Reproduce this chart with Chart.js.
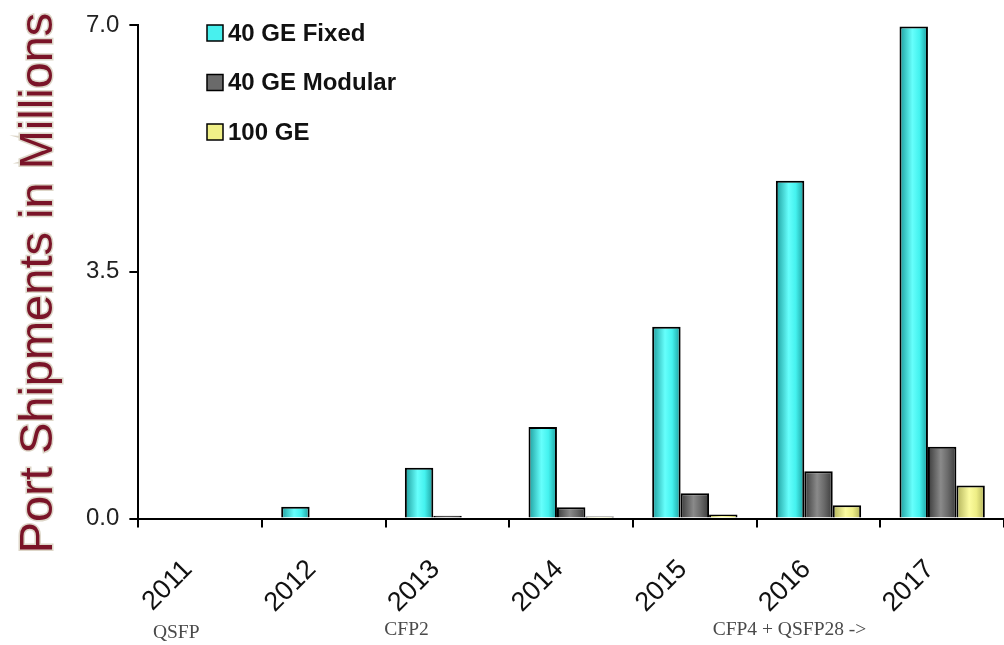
<!DOCTYPE html>
<html>
<head>
<meta charset="utf-8">
<script src="https://cdn.jsdelivr.net/npm/chart.js@4/dist/chart.umd.min.js"></script>
<style>
  html, body { margin:0; padding:0; background:#fff; }
  #wrap { width:1004px; height:645px; position:relative; }
</style>
</head>
<body>
<div id="wrap"><canvas id="shipChart"></canvas></div>
<script>
// Chart data
const years = ['2011','2012','2013','2014','2015','2016','2017'];
const fixed40 = [0, 0.17, 0.72, 1.30, 2.72, 4.79, 6.98];
const modular40 = [0, 0, 0.04, 0.16, 0.36, 0.67, 1.02];
const ge100 = [0, 0, 0, 0.03, 0.06, 0.19, 0.47];
const yTicks = [0, 3.5, 7.0];
const seriesNames = ['40 GE Fixed', '40 GE Modular', '100 GE'];
const yTitle = 'Port Shipments in Millions';
// form-factor notes under the year labels
const noteText = ['QSFP', 'CFP2', 'CFP4 + QSFP28 ->'];
const noteYear = ['2011', '2013', '2016'];

const CAT_PCT = 0.69;

// cylinder-ish shading: dark edges, light band left of centre
function shade(base, light, dark) {
  return function(ctx) {
    const chart = ctx.chart;
    const xs = chart.scales && chart.scales.x;
    if (!xs || ctx.type !== 'data') return base;
    const catW = xs.width / years.length;
    const barW = catW * CAT_PCT / 3;
    const center = xs.getPixelForValue(ctx.dataIndex);
    const left = center - catW * CAT_PCT / 2 + ctx.datasetIndex * barW;
    if (!isFinite(left) || !isFinite(barW) || barW <= 0) return base;
    const g = chart.ctx.createLinearGradient(left, 0, left + barW, 0);
    g.addColorStop(0, dark);
    g.addColorStop(0.45, light);
    g.addColorStop(0.7, base);
    g.addColorStop(1, dark);
    return g;
  };
}

const colors = [
  { base:'#44f2ef', light:'#66fffc', dark:'#1c9c9c', box:'#48f0ee' },
  { base:'#6a6a6a', light:'#8a8a8a', dark:'#3a3a3a', box:'#6a6a6a' },
  { base:'#eeee86', light:'#fcfca0', dark:'#b0b058', box:'#f0f088' }
];

// legend drawn inside the plot area, stacked vertically
const insideLegend = {
  id: 'insideLegend',
  afterDraw(chart) {
    const c = chart.ctx;
    const x0 = 207, y0 = 33, step = 49.5;
    c.save();
    c.font = 'bold 24px Arial, "Liberation Sans", sans-serif';
    c.textBaseline = 'middle';
    chart.data.datasets.forEach((ds, i) => {
      const y = y0 + i * step;
      c.fillStyle = colors[i].box;
      c.fillRect(x0, y - 8, 16, 16);
      c.lineWidth = 1.5;
      c.strokeStyle = '#000';
      c.strokeRect(x0, y - 8, 16, 16);
      c.fillStyle = '#111';
      c.fillText(ds.label, x0 + 21, y + 1);
    });
    c.restore();
  }
};

// vertical axis title, sits a bit lower than the plot's middle like the original
const sideTitle = {
  id: 'sideTitle',
  afterDraw(chart) {
    const c = chart.ctx;
    c.save();
    c.translate(39, 283);
    c.rotate(-Math.PI / 2);
    c.font = '47px Arial, "Liberation Sans", sans-serif';
    c.textAlign = 'center';
    c.textBaseline = 'middle';
    c.lineWidth = 3;
    c.strokeStyle = '#ddd6c8';
    c.strokeText(yTitle, 0, 0);
    c.fillStyle = '#7a1428';
    c.fillText(yTitle, 0, 0);
    c.restore();
  }
};

// form-factor notes below the rotated year labels
const notes = {
  id: 'notes',
  afterDraw(chart) {
    const c = chart.ctx;
    const xs = chart.scales.x;
    const offs = [-24, -41, -29];
    c.save();
    c.font = '19.5px "Liberation Serif", "Times New Roman", serif';
    c.fillStyle = '#4a4a4a';
    c.textAlign = 'center';
    c.textBaseline = 'middle';
    noteText.forEach((t, i) => {
      const x = xs.getPixelForValue(years.indexOf(noteYear[i])) + offs[i];
      c.fillText(t, x, i === 0 ? 633 : 630);
    });
    c.restore();
  }
};

const ctx = document.getElementById('shipChart').getContext('2d');
const shipChart = new Chart(ctx, {
  type: 'bar',
  data: {
    labels: years,
    datasets: [fixed40, modular40, ge100].map((vals, i) => ({
      label: seriesNames[i],
      data: vals,
      backgroundColor: shade(colors[i].base, colors[i].light, colors[i].dark),
      borderColor: '#000',
      borderWidth: 2,
      borderSkipped: 'bottom',
      categoryPercentage: CAT_PCT,
      barPercentage: 1.0
    }))
  },
  options: {
    responsive: true,
    maintainAspectRatio: false,
    animation: false,
    layout: { padding: { top: 25, right: 0, bottom: 0, left: 76 } },
    plugins: {
      legend: { display: false },
      tooltip: { enabled: false }
    },
    scales: {
      x: {
        grid: { offset: true, drawOnChartArea: false, drawTicks: true, tickLength: 9, color: '#000', lineWidth: 2 },
        border: { display: true, color: '#000', width: 2 },
        ticks: {
          maxRotation: 45, minRotation: 45,
          padding: 26,
          labelOffset: -12,
          color: '#111',
          font: { family: 'Arial, "Liberation Sans", sans-serif', size: 27 }
        }
      },
      y: {
        min: 0, max: 7,
        afterBuildTicks(axis) { axis.ticks = yTicks.map(v => ({ value: v })); },
        grid: { drawOnChartArea: false, drawTicks: true, tickLength: 9, color: '#000', lineWidth: 2 },
        border: { display: true, color: '#000', width: 2 },
        ticks: {
          padding: 10,
          color: '#222',
          font: { family: 'Arial, "Liberation Sans", sans-serif', size: 24 },
          callback: v => Number(v).toFixed(1)
        }
      }
    }
  },
  plugins: [insideLegend, sideTitle, notes]
});
</script>
</body>
</html>
